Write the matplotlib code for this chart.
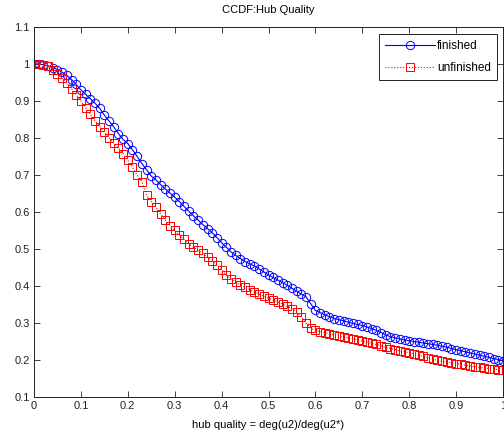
import matplotlib
matplotlib.use("Agg")
import matplotlib.pyplot as plt

plt.rcParams['font.family'] = ['Liberation Sans', 'DejaVu Sans']

x_vals = [0.00, 0.01, 0.02, 0.03, 0.04, 0.05, 0.06, 0.07, 0.08, 0.09,
          0.10, 0.11, 0.12, 0.13, 0.14, 0.15, 0.16, 0.17, 0.18, 0.19,
          0.20, 0.21, 0.22, 0.23, 0.24, 0.25, 0.26, 0.27, 0.28, 0.29,
          0.30, 0.31, 0.32, 0.33, 0.34, 0.35, 0.36, 0.37, 0.38, 0.39,
          0.40, 0.41, 0.42, 0.43, 0.44, 0.45, 0.46, 0.47, 0.48, 0.49,
          0.50, 0.51, 0.52, 0.53, 0.54, 0.55, 0.56, 0.57, 0.58, 0.59,
          0.60, 0.61, 0.62, 0.63, 0.64, 0.65, 0.66, 0.67, 0.68, 0.69,
          0.70, 0.71, 0.72, 0.73, 0.74, 0.75, 0.76, 0.77, 0.78, 0.79,
          0.80, 0.81, 0.82, 0.83, 0.84, 0.85, 0.86, 0.87, 0.88, 0.89,
          0.90, 0.91, 0.92, 0.93, 0.94, 0.95, 0.96, 0.97, 0.98, 0.99, 1.00]

finished = [1.000, 1.000, 0.998, 0.995, 0.990, 0.985, 0.978, 0.969, 0.958, 0.945,
            0.930, 0.918, 0.906, 0.894, 0.880, 0.862, 0.846, 0.830, 0.812, 0.796,
            0.785, 0.768, 0.750, 0.731, 0.714, 0.697, 0.687, 0.674, 0.662, 0.651,
            0.640, 0.628, 0.615, 0.602, 0.590, 0.578, 0.566, 0.555, 0.544, 0.531,
            0.517, 0.505, 0.492, 0.483, 0.474, 0.466, 0.460, 0.454, 0.446, 0.438,
            0.430, 0.423, 0.416, 0.409, 0.402, 0.394, 0.386, 0.378, 0.371, 0.352,
            0.334, 0.328, 0.322, 0.317, 0.312, 0.309, 0.306, 0.302, 0.299, 0.296,
            0.293, 0.289, 0.285, 0.280, 0.274, 0.268, 0.263, 0.260, 0.257, 0.254,
            0.252, 0.250, 0.248, 0.246, 0.244, 0.242, 0.240, 0.237, 0.235, 0.231,
            0.228, 0.225, 0.222, 0.219, 0.216, 0.213, 0.210, 0.207, 0.204, 0.201, 0.198]

unfinished = [1.000, 1.000, 0.998, 0.994, 0.985, 0.973, 0.961, 0.948, 0.933, 0.917,
              0.900, 0.882, 0.864, 0.846, 0.831, 0.815, 0.801, 0.787, 0.773, 0.758,
              0.740, 0.721, 0.700, 0.682, 0.646, 0.628, 0.613, 0.595, 0.578, 0.562,
              0.550, 0.538, 0.526, 0.514, 0.505, 0.496, 0.488, 0.478, 0.468, 0.456,
              0.443, 0.430, 0.419, 0.411, 0.403, 0.396, 0.390, 0.384, 0.378, 0.372,
              0.367, 0.362, 0.357, 0.351, 0.345, 0.339, 0.330, 0.316, 0.300, 0.286,
              0.280, 0.277, 0.274, 0.271, 0.268, 0.265, 0.263, 0.260, 0.257, 0.254,
              0.251, 0.248, 0.245, 0.242, 0.238, 0.234, 0.231, 0.228, 0.225, 0.222,
              0.220, 0.217, 0.213, 0.210, 0.206, 0.202, 0.199, 0.196, 0.194, 0.192,
              0.190, 0.188, 0.186, 0.184, 0.182, 0.180, 0.178, 0.177, 0.176, 0.174, 0.172]

xticks = [0, 0.1, 0.2, 0.3, 0.4, 0.5, 0.6, 0.7, 0.8, 0.9, 1.0]
xtick_labels = ['0', '0.1', '0.2', '0.3', '0.4', '0.5', '0.6', '0.7', '0.8', '0.9', '1']
yticks = [0.1, 0.2, 0.3, 0.4, 0.5, 0.6, 0.7, 0.8, 0.9, 1.0, 1.1]
ytick_labels = ['0.1', '0.2', '0.3', '0.4', '0.5', '0.6', '0.7', '0.8', '0.9', '1', '1.1']

fig = plt.figure(figsize=(5.04, 4.4), dpi=100)
ax = fig.add_axes([34/504, 1 - 397/440, 469/504, 370/440])

ax.plot(x_vals, finished, color='blue', linestyle='-', linewidth=0.8,
        marker='o', markersize=6, markerfacecolor='none', markeredgewidth=0.7,
        label='finished')
ax.plot(x_vals, unfinished, color='red', linestyle=':', linewidth=0.8,
        marker='s', markersize=6, markerfacecolor='none', markeredgewidth=0.7,
        label='unfinished')

ax.set_xlim(0, 1)
ax.set_ylim(0.1, 1.1)
ax.set_xticks(xticks)
ax.set_xticklabels(xtick_labels)
ax.set_yticks(yticks)
ax.set_yticklabels(ytick_labels)
ax.tick_params(direction='in', top=True, right=True, length=4, width=0.6,
               labelsize=8, colors='#222222', pad=3)
for s in ax.spines.values():
    s.set_linewidth(0.7)
    s.set_color('#222222')

ax.set_title('CCDF:Hub Quality', fontsize=8, pad=10)
ax.set_xlabel('hub quality = deg(u2)/deg(u2*)', fontsize=8, labelpad=6)

leg = ax.legend(loc='upper right', fontsize=8.5, numpoints=1, handlelength=4.2,
                fancybox=False, framealpha=1, edgecolor='#222222',
                bbox_to_anchor=(463/469, 363/370),
                borderaxespad=0.0, handletextpad=0.2, borderpad=0.5,
                labelspacing=0.85)
leg.get_frame().set_linewidth(0.7)

fig.savefig('out.png', dpi=100)
